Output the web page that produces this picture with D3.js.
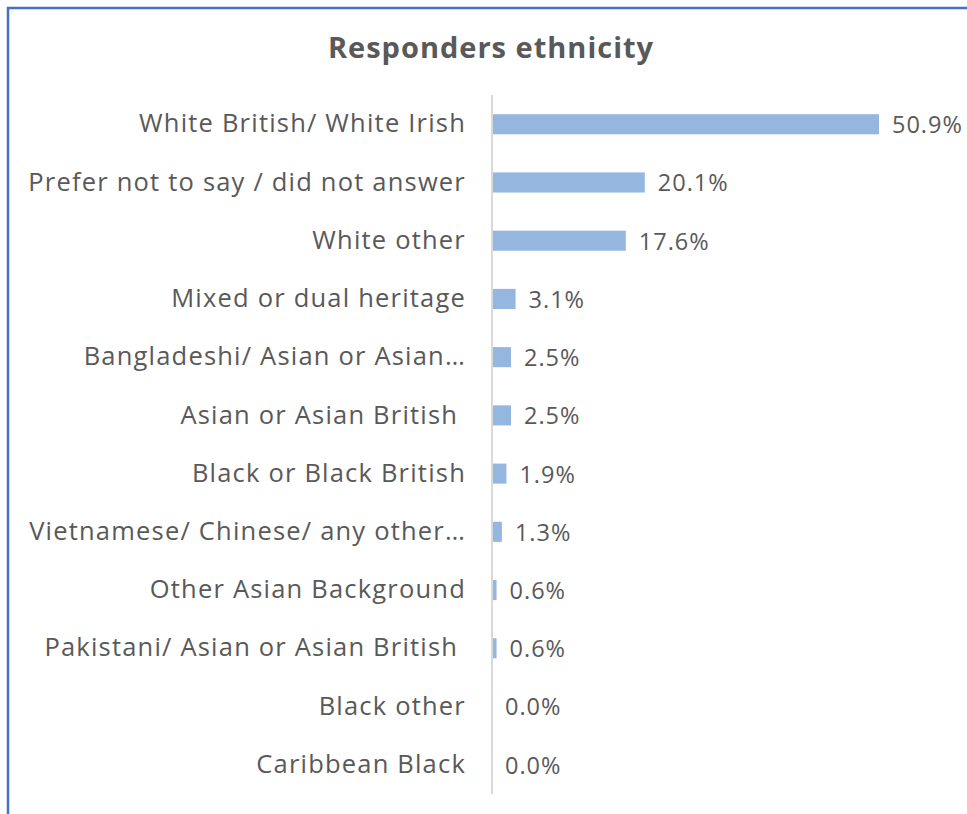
<!DOCTYPE html>
<html>
<head>
<meta charset="utf-8">
<script src="https://cdn.jsdelivr.net/npm/d3@7"></script>
<style>
  html, body { margin: 0; padding: 0; background: #ffffff; }
  svg { display: block; }
</style>
</head>
<body>
<svg id="chart" width="967" height="814"></svg>
<script>
// Survey responders by ethnicity (percent of all responses)
const categories = [
  "White British/ White Irish",
  "Prefer not to say / did not answer",
  "White other",
  "Mixed or dual heritage",
  "Bangladeshi/ Asian or Asian\u2026",
  "Asian or Asian British ",
  "Black or Black British",
  "Vietnamese/ Chinese/ any other\u2026",
  "Other Asian Background",
  "Pakistani/ Asian or Asian British ",
  "Black other",
  "Caribbean Black"
];
const values = [50.9, 20.1, 17.6, 3.1, 2.5, 2.5, 1.9, 1.3, 0.6, 0.6, 0.0, 0.0];
const chartTitle = "Responders ethnicity";

const font = "'Open Sans', sans-serif";
const textColor = "#595959";
const barColor = "#95B7DF";

const svg = d3.select("#chart");
const W = 967, H = 814;

// Frame (top and left edges of the chart area)
svg.append("path")
  .attr("d", `M8,${H} L8,8 L${W},8`)
  .attr("fill", "none")
  .attr("stroke", "#4472C4")
  .attr("stroke-width", 2.5);

// Title
svg.append("text")
  .attr("x", 491)
  .attr("y", 58)
  .attr("text-anchor", "middle")
  .attr("font-family", font)
  .attr("font-weight", "bold")
  .attr("font-size", 29)
  .attr("letter-spacing", 1)
  .attr("fill", textColor)
  .text(chartTitle);

// Plot area
const x0 = 492;
const x = d3.scaleLinear().domain([0, 50.9]).range([x0, 879]);
const y = d3.scaleBand().domain(categories).range([95, 794]).paddingInner(0.655).paddingOuter(0.33);

const data = categories.map((c, i) => ({ cat: c, val: values[i] }));

// Bars
svg.append("g").selectAll("rect")
  .data(data)
  .join("rect")
  .attr("x", x0)
  .attr("y", d => y(d.cat))
  .attr("width", d => x(d.val) - x0)
  .attr("height", y.bandwidth())
  .attr("fill", barColor);

// Category axis (labels only, no ticks)
const axis = svg.append("g")
  .attr("transform", `translate(${x0},0)`)
  .call(d3.axisLeft(y).tickSize(0).tickPadding(26));
axis.select(".domain").remove();
axis.selectAll("text")
  .attr("font-family", font)
  .attr("font-size", 25.5)
  .attr("letter-spacing", 1.2)
  .attr("fill", textColor)
  .style("white-space", "pre");

// Vertical baseline
svg.append("line")
  .attr("x1", x0).attr("x2", x0)
  .attr("y1", 95).attr("y2", 794)
  .attr("stroke", "#D9D9D9")
  .attr("stroke-width", 2);

// Value labels
svg.append("g").selectAll("text")
  .data(data)
  .join("text")
  .attr("x", d => x(d.val) + 13)
  .attr("y", d => y(d.cat) + y.bandwidth() / 2)
  .attr("dy", "0.38em")
  .attr("font-family", font)
  .attr("font-size", 23.5)
  .attr("letter-spacing", 1)
  .attr("fill", textColor)
  .text(d => d.val.toFixed(1) + "%");
</script>
</body>
</html>
